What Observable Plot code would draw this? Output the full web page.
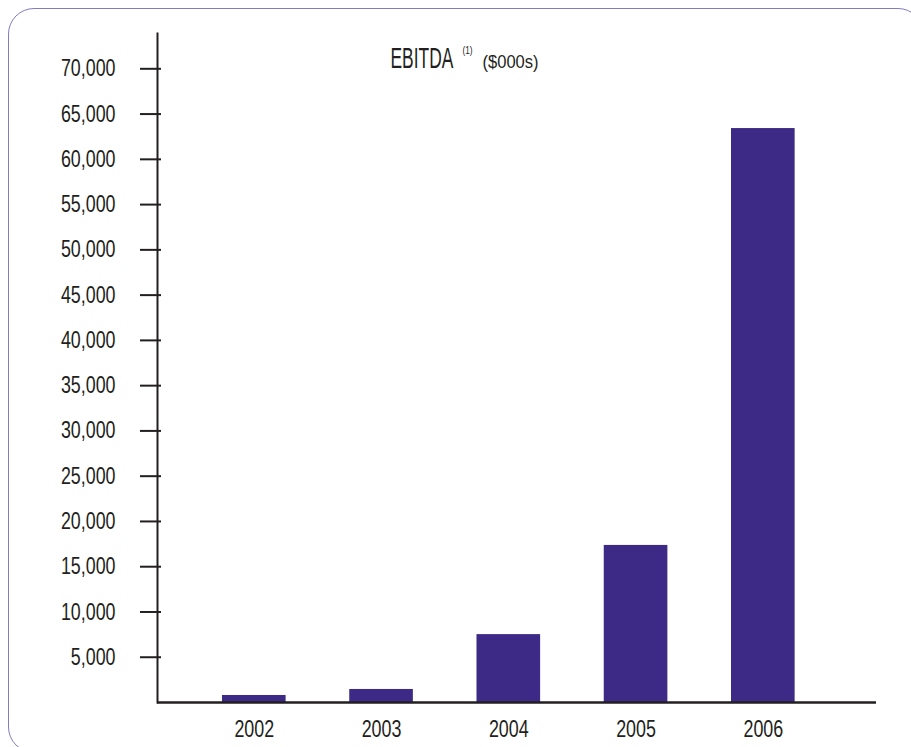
<!DOCTYPE html>
<html><head><meta charset="utf-8">
<script src="https://cdn.jsdelivr.net/npm/d3@7"></script>
<script src="https://cdn.jsdelivr.net/npm/@observablehq/plot@0.6"></script>
<style>
html,body{margin:0;padding:0;background:#fff;overflow:hidden;}
#wrap{position:relative;width:911px;height:747px;overflow:hidden;}
#chart{position:absolute;left:0;top:0;}
#border{position:absolute;left:8px;top:8px;width:916px;height:745px;border:1.2px solid #857bc2;border-radius:26px;box-sizing:border-box;z-index:2;pointer-events:none;}
</style></head><body>
<div id="wrap"><div id="chart"></div><div id="border"></div></div>
<script>
const years = ["2002", "2003", "2004", "2005", "2006"];
const ebitda = [775, 1440, 7500, 17350, 63400];
const yTicks = [5000, 10000, 15000, 20000, 25000, 30000, 35000, 40000, 45000, 50000, 55000, 60000, 65000, 70000];
const titleMain = ["EBITDA"];
const titleNote = ["(1)"];
const titleUnit = ["($000s)"];

const data = years.map((year, i) => ({year, value: ebitda[i]}));
const font = "'Liberation Sans',Arial,sans-serif";
const ink = "#231f20";

const plot = Plot.plot({
  width: 911, height: 747,
  marginLeft: 157, marginRight: 35, marginTop: 33, marginBottom: 45,
  style: {fontFamily: font, color: ink, background: "white", overflow: "visible"},
  x: {domain: years, paddingInner: 0.5, paddingOuter: 0.575, align: 0.444, round: false},
  y: {domain: [0, 73900]},
  marks: [
    Plot.barY(data, {x: "year", y: "value", fill: "#3d2a86"}),
    Plot.frame({anchor: "left", stroke: ink, strokeWidth: 2}),
    Plot.ruleY([0], {stroke: ink, strokeWidth: 2.4}),
    Plot.axisY({ticks: yTicks, tickSize: 17, tickPadding: 25, tickFormat: d3.format(","), fontSize: 23.5, stroke: ink, strokeWidth: 2, fill: ink, label: null}),
    Plot.axisY({ticks: yTicks, tickSize: -4, tickFormat: () => "", stroke: ink, strokeWidth: 2, label: null}),
    Plot.axisX({tickSize: 0, tickPadding: 17, fontSize: 24.5, fill: ink, label: null}),
    Plot.text(titleMain, {text: d => d, frameAnchor: "top-left", dx: 233, dy: 24.5, fontSize: 30, textAnchor: "start", lineAnchor: "middle", fill: ink}),
    Plot.text(titleNote, {text: d => d, frameAnchor: "top-left", dx: 305, dy: 17, fontSize: 11, textAnchor: "start", lineAnchor: "middle", fill: ink}),
    Plot.text(titleUnit, {text: d => d, frameAnchor: "top-left", dx: 325, dy: 28.5, fontSize: 18, textAnchor: "start", lineAnchor: "middle", fill: ink})
  ]
});
document.getElementById("chart").appendChild(plot);

const svg = d3.select(plot);
function squeeze(sel, k) {
  sel.each(function() {
    const t = this.getAttribute("transform") || "";
    this.setAttribute("transform", t + ` scale(${k},1)`);
  });
}
squeeze(svg.selectAll('g[aria-label="y-axis tick label"] text'), 0.76);
squeeze(svg.selectAll('g[aria-label="x-axis tick label"] text'), 0.73);
svg.selectAll('g[aria-label="text"] text').each(function() {
  const s = this.textContent;
  const k = s === "EBITDA" ? 0.58 : s === "($000s)" ? 0.92 : 0.75;
  const t = this.getAttribute("transform") || "";
  this.setAttribute("transform", t + ` scale(${k},1)`);
});
</script>
</body></html>
